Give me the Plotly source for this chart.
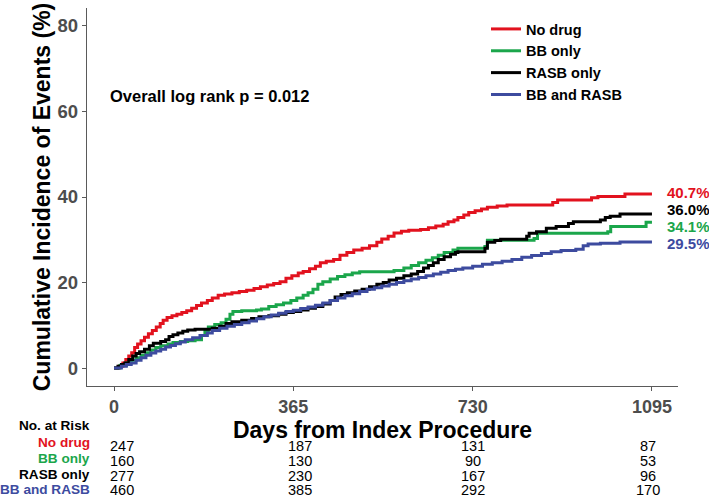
import plotly.graph_objects as go

# ---------------- data ----------------
series_names = ["No drug", "BB only", "RASB only", "BB and RASB"]
series_colors = ["#E2121E", "#1BA64B", "#000000", "#3D4B9F"]

nodrug_days = [0, 10, 18, 24, 30, 36, 42, 48, 55, 62, 70, 78, 86, 94, 100, 108, 118, 128, 138, 148,
               158, 168, 178, 190, 200, 212, 225, 240, 255, 270, 285, 298, 312, 325, 338, 350, 362,
               375, 385, 398, 410, 420, 432, 447, 460, 474, 488, 505, 520, 535, 545, 558, 570, 585,
               600, 624, 640, 655, 670, 680, 692, 700, 712, 722, 735, 748, 760, 780, 800, 893, 903,
               972, 985, 1040, 1095]
nodrug_pct = [0, 0.4, 1.2, 2.0, 2.8, 3.6, 4.8, 5.6, 6.4, 7.2, 8.0, 8.8, 9.6, 10.4, 11.2, 11.8, 12.2,
              12.6, 13.0, 13.4, 14.0, 14.6, 15.2, 15.8, 16.4, 17.0, 17.3, 17.6, 17.9, 18.2, 18.6,
              19.0, 19.4, 19.8, 20.2, 21.0, 21.6, 22.2, 22.6, 23.2, 23.8, 24.6, 25.0, 25.4, 26.4,
              27.0, 27.6, 28.0, 28.6, 29.4, 30.2, 30.8, 31.6, 32.0, 32.2, 32.4, 32.8, 33.2, 33.6,
              34.2, 34.6, 35.2, 35.8, 36.4, 36.8, 37.2, 37.6, 37.9, 38.1, 38.7, 39.3, 39.8, 40.1,
              40.7, 40.7]

bb_days = [0, 12, 25, 35, 45, 55, 65, 75, 85, 95, 110, 120, 135, 150, 165, 178, 185, 192, 205, 218,
           228, 236, 242, 260, 290, 300, 315, 330, 345, 360, 372, 385, 395, 405, 415, 425, 440, 455,
           470, 485, 500, 570, 590, 605, 620, 635, 648, 660, 672, 690, 700, 755, 760, 855, 862,
           1005, 1011, 1080, 1083, 1095]
bb_pct = [0, 0.6, 1.2, 1.8, 2.4, 3.0, 3.6, 4.2, 4.8, 5.2, 5.6, 6.0, 6.2, 6.4, 6.6, 7.6, 8.8, 9.6,
          10.2, 10.6, 11.4, 12.6, 13.2, 13.4, 13.6, 13.8, 14.4, 14.8, 15.2, 15.8, 16.4, 17.0, 17.6,
          18.4, 19.6, 20.2, 20.8, 21.4, 21.8, 22.2, 22.5, 22.8, 23.4, 24.0, 24.6, 25.2, 25.8, 26.4,
          27.0, 27.6, 28.0, 28.4, 29.9, 30.3, 31.5, 31.9, 33.1, 33.1, 34.1, 34.1]

rasb_days = [0, 8, 15, 22, 30, 38, 45, 52, 62, 72, 80, 95, 105, 112, 120, 130, 140, 150, 165, 200,
             215, 228, 240, 260, 280, 295, 315, 335, 350, 365, 380, 395, 410, 425, 440, 450, 462,
             475, 490, 505, 520, 535, 548, 560, 575, 590, 605, 618, 630, 640, 650, 660, 672, 685,
             695, 700, 755, 760, 775, 787, 840, 845, 860, 880, 900, 925, 935, 990, 1000, 1010,
             1030, 1095]
rasb_pct = [0, 0.4, 0.8, 1.2, 2.0, 2.8, 3.4, 3.8, 4.4, 5.2, 5.8, 6.2, 6.6, 7.4, 7.8, 8.2, 8.6, 8.9,
            9.1, 9.3, 9.8, 10.4, 10.8, 11.2, 11.6, 12.0, 12.2, 12.6, 13.0, 13.2, 13.6, 14.0, 14.4,
            15.0, 15.8, 16.6, 17.2, 17.6, 18.0, 18.4, 19.0, 19.6, 20.0, 20.6, 21.0, 21.6, 22.0,
            22.6, 23.4, 24.0, 24.6, 25.4, 26.0, 26.6, 27.0, 27.2, 28.0, 29.4, 29.8, 30.1, 30.8,
            31.5, 31.9, 32.7, 33.1, 33.8, 34.2, 34.6, 35.2, 35.5, 36.0, 36.0]

both_days = [0, 15, 25, 35, 45, 55, 65, 75, 85, 95, 105, 115, 125, 135, 145, 160, 175, 190, 200,
             215, 230, 245, 260, 275, 290, 305, 320, 335, 350, 365, 380, 395, 410, 425, 440, 455,
             470, 485, 500, 515, 530, 545, 560, 575, 590, 605, 620, 635, 650, 665, 680, 695, 710,
             730, 750, 770, 790, 810, 830, 850, 870, 890, 910, 940, 955, 965, 990, 1030, 1095]
both_pct = [0, 0.4, 0.8, 1.2, 1.8, 2.4, 3.0, 3.5, 4.0, 4.4, 4.9, 5.3, 5.7, 6.1, 6.6, 7.1, 7.6, 8.2,
            8.8, 9.3, 9.8, 10.2, 10.6, 11.0, 11.5, 12.0, 12.4, 12.8, 13.2, 13.5, 13.9, 14.3, 14.7,
            15.2, 15.8, 16.4, 16.9, 17.4, 17.9, 18.4, 18.8, 19.2, 19.6, 20.0, 20.4, 20.8, 21.2,
            21.6, 22.0, 22.4, 22.8, 23.1, 23.4, 23.8, 24.3, 24.6, 25.0, 25.4, 25.9, 26.3, 26.8,
            27.2, 27.5, 27.8, 28.6, 29.0, 29.2, 29.5, 29.5]

# end-of-follow-up labels, in series order (No drug, BB only, RASB only, BB and RASB)
end_labels = ["40.7%", "34.1%", "36.0%", "29.5%"]
end_label_y = [41.0, 33.1, 37.0, 29.2]   # dodged label heights (percent scale)

x_ticks = [0, 365, 730, 1095]
y_ticks = [0, 20, 40, 60, 80]

risk_days = [0, 365, 730, 1095]
risk_nodrug = [247, 187, 131, 87]
risk_bb = [160, 130, 90, 53]
risk_rasb = [277, 230, 167, 96]
risk_both = [460, 385, 292, 170]

pvalue_text = "Overall log rank p = 0.012"

# ---------------- layout helpers ----------------
W, H = 709, 498
L, R, T, B = 87, 31, 8, 112
PW, PH = W - L - R, H - T - B


def px_x(p):
    return (p - L) / PW


def px_y(p):
    return (H - B - p) / PH


fig = go.Figure()
all_days = [nodrug_days, bb_days, rasb_days, both_days]
all_pct = [nodrug_pct, bb_pct, rasb_pct, both_pct]
for i, name in enumerate(series_names):
    fig.add_trace(go.Scatter(
        x=all_days[i], y=all_pct[i], mode="lines", name=name,
        line=dict(color=series_colors[i], width=3, shape="hv"),
        showlegend=True,
    ))

annotations = []
annotations.append(dict(
    x=px_x(108), y=px_y(96), xref="paper", yref="paper", xanchor="left", yanchor="middle",
    text=pvalue_text, showarrow=False,
    font=dict(family="Liberation Sans, Arial", size=16.5, color="#000000", weight="bold"),
))
for i, lab in enumerate(end_labels):
    annotations.append(dict(
        x=1095, y=end_label_y[i], xref="x", yref="y", xanchor="left", yanchor="middle",
        xshift=13, text=lab, showarrow=False,
        font=dict(family="Liberation Sans, Arial", size=15, color=series_colors[i], weight="bold"),
    ))

label_font = "Liberation Sans, Arial"
annotations.append(dict(
    x=px_x(92), y=px_y(425), xref="paper", yref="paper", xanchor="right", yanchor="middle",
    text="No. at Risk", showarrow=False,
    font=dict(family=label_font, size=13.6, color="#000000", weight="bold"),
))
label_rows_y = [442, 458, 474, 489]
num_rows_y = [446, 461, 476, 490]
col_shift = [8, 7, 0, -4]
risk_rows = [risk_nodrug, risk_bb, risk_rasb, risk_both]
for r, name in enumerate(series_names):
    annotations.append(dict(
        x=px_x(92), y=px_y(label_rows_y[r]), xref="paper", yref="paper",
        xanchor="right", yanchor="middle", text=name, showarrow=False,
        font=dict(family=label_font, size=13.6, color=series_colors[r], weight="bold"),
    ))
    for c, d in enumerate(risk_days):
        annotations.append(dict(
            x=d, y=px_y(num_rows_y[r]), xref="x", yref="paper", xanchor="center",
            yanchor="middle", xshift=col_shift[c], text=str(risk_rows[r][c]), showarrow=False,
            font=dict(family="Liberation Sans, Arial", size=14.5, color="#000000"),
        ))

fig.update_layout(
    width=W, height=H,
    margin=dict(l=L, r=R, t=T, b=B, autoexpand=False),
    paper_bgcolor="white", plot_bgcolor="white",
    showlegend=True,
    legend=dict(
        x=px_x(486), y=px_y(13), xanchor="left", yanchor="top",
        bgcolor="rgba(0,0,0,0)", tracegroupgap=0,
        font=dict(family="Liberation Sans, Arial", size=14.5, color="#000000", weight="bold"),
    ),
    annotations=annotations,
)
fig.update_xaxes(
    range=[-55, 1148], tickvals=x_ticks, ticktext=[str(v) for v in x_ticks],
    showgrid=False, zeroline=False, showline=True, linecolor="#5a5a5a", linewidth=1.3,
    ticks="outside", ticklen=4, tickcolor="#5a5a5a", tickwidth=1.3, automargin=False,
    tickfont=dict(family="Liberation Sans, Arial", size=18, color="#4d4d4d", weight="bold"),
    title=dict(text="Days from Index Procedure", standoff=1,
               font=dict(family="Liberation Sans, Arial", size=23, color="#000000", weight="bold")),
)
fig.update_yaxes(
    range=[-4.2, 84.2], tickvals=y_ticks, ticktext=[str(v) for v in y_ticks],
    showgrid=False, zeroline=False, showline=True, linecolor="#5a5a5a", linewidth=1.3,
    ticks="outside", ticklen=4, tickcolor="#5a5a5a", tickwidth=1.3, automargin=False,
    tickfont=dict(family="Liberation Sans, Arial", size=18.5, color="#4d4d4d", weight="bold"),
    title=dict(text="Cumulative Incidence of Events (%)", standoff=0,
               font=dict(family="Liberation Sans, Arial", size=23, color="#000000", weight="bold")),
)

fig.write_html(
    "out.html",
    config={"displayModeBar": False},
    post_script="document.body.style.margin='0';document.body.style.overflow='hidden';",
)
